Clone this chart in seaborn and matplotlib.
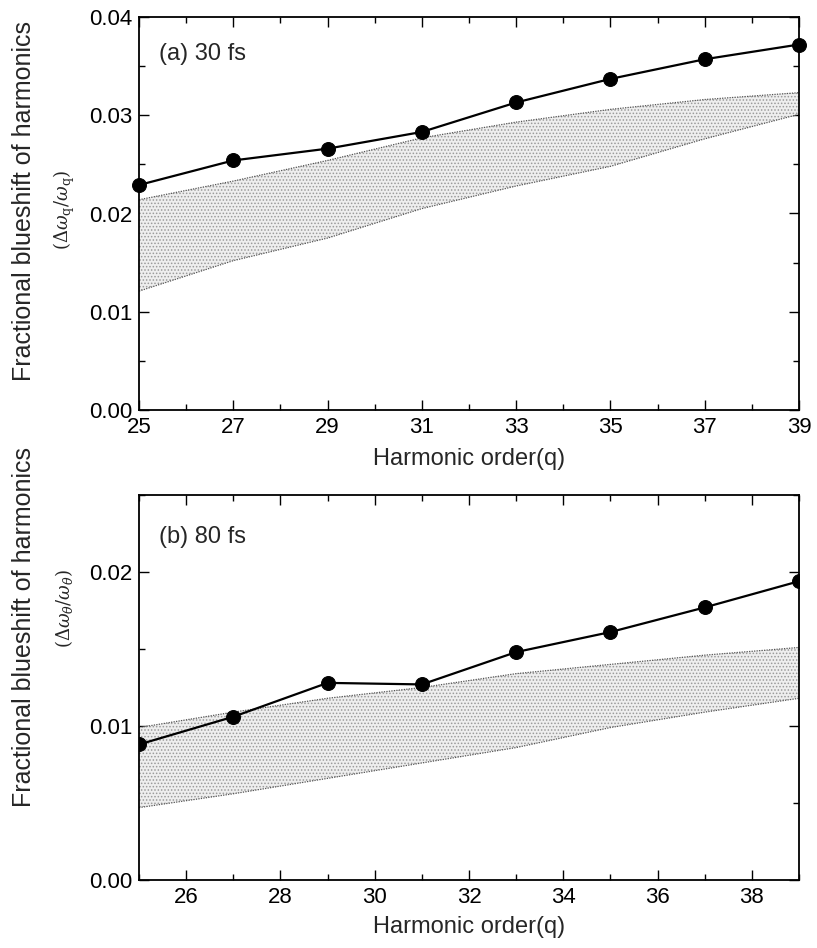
import numpy as np
import pandas as pd
import matplotlib
matplotlib.use("Agg")
import matplotlib.pyplot as plt
import seaborn as sns
from matplotlib.ticker import MultipleLocator

# ---- data ----
harmonic_q = [25, 27, 29, 31, 33, 35, 37, 39]
shift_30fs = [0.0229, 0.0254, 0.0266, 0.0283, 0.0313, 0.0337, 0.0357, 0.0372]
band_30fs_upper = [0.0214, 0.0233, 0.0254, 0.0277, 0.0293, 0.0306, 0.0316, 0.0323]
band_30fs_lower = [0.0121, 0.0152, 0.0175, 0.0205, 0.0228, 0.0248, 0.0276, 0.0301]

shift_80fs = [0.0088, 0.0106, 0.0128, 0.0127, 0.0148, 0.0161, 0.0177, 0.0194]
band_80fs_upper = [0.0099, 0.0109, 0.0118, 0.0125, 0.0134, 0.0140, 0.0146, 0.0151]
band_80fs_lower = [0.0047, 0.0056, 0.0066, 0.0076, 0.0086, 0.0099, 0.0109, 0.0118]

top_xticks = [25, 27, 29, 31, 33, 35, 37, 39]
bottom_xticks = [26, 28, 30, 32, 34, 36, 38]

sns.set_style("ticks")
plt.rcParams['font.family'] = ['Liberation Sans', 'DejaVu Sans']
plt.rcParams['mathtext.fontset'] = 'dejavuserif'
plt.rcParams['hatch.linewidth'] = 0.7

fig = plt.figure(figsize=(8.17, 9.48), dpi=100)
W, H = 817, 948

def axes_px(l, r, t, b):
    return fig.add_axes([l / W, 1 - b / H, (r - l) / W, (b - t) / H])

ax1 = axes_px(139, 799, 17, 410)
ax2 = axes_px(139, 799, 495, 880)

def style(ax):
    ax.tick_params(which='both', direction='in', top=True, right=True,
                   labelsize=16, colors='black', width=1.0)
    ax.tick_params(which='major', length=7, pad=5)
    ax.tick_params(which='minor', length=4)
    for s in ax.spines.values():
        s.set_linewidth(1.3)
        s.set_color('black')

def band(ax, lo, hi):
    ax.fill_between(harmonic_q, lo, hi, facecolor='#eeeeee', edgecolor='#9a9a9a',
                    hatch='.....', linewidth=0, zorder=1)
    ax.plot(harmonic_q, hi, ls=(0, (1, 1)), lw=0.9, color='#555555', zorder=2)
    ax.plot(harmonic_q, lo, ls=(0, (1, 1)), lw=0.9, color='#555555', zorder=2)

# ---- panel (a) ----
band(ax1, band_30fs_lower, band_30fs_upper)
df1 = pd.DataFrame({'q': harmonic_q, 'shift': shift_30fs})
sns.lineplot(data=df1, x='q', y='shift', ax=ax1, color='black', lw=1.6,
             marker='o', markersize=10, markeredgecolor='black', clip_on=False, zorder=5)
ax1.set_xlim(25, 39)
ax1.set_ylim(0, 0.04)
ax1.set_xticks(top_xticks)
ax1.xaxis.set_minor_locator(MultipleLocator(1))
ax1.set_yticks([0.00, 0.01, 0.02, 0.03, 0.04])
ax1.yaxis.set_minor_locator(MultipleLocator(0.005))
ax1.set_yticklabels(['0.00', '0.01', '0.02', '0.03', '0.04'])
ax1.set_xlabel('Harmonic order(q)', fontsize=17, labelpad=7)
ax1.set_ylabel('')
style(ax1)
ax1.text(0.03, 0.905, '(a) 30 fs', transform=ax1.transAxes, fontsize=17, va='center')

# ---- panel (b) ----
band(ax2, band_80fs_lower, band_80fs_upper)
df2 = pd.DataFrame({'q': harmonic_q, 'shift': shift_80fs})
sns.lineplot(data=df2, x='q', y='shift', ax=ax2, color='black', lw=1.6,
             marker='o', markersize=10, markeredgecolor='black', clip_on=True, zorder=5)
ax2.set_xlim(25, 39)
ax2.set_ylim(0, 0.025)
ax2.set_xticks(bottom_xticks)
ax2.xaxis.set_minor_locator(MultipleLocator(1))
ax2.set_yticks([0.00, 0.01, 0.02])
ax2.yaxis.set_minor_locator(MultipleLocator(0.005))
ax2.set_yticklabels(['0.00', '0.01', '0.02'])
ax2.set_xlabel('Harmonic order(q)', fontsize=17, labelpad=6)
ax2.set_ylabel('')
style(ax2)
ax2.text(0.03, 0.89, '(b) 80 fs', transform=ax2.transAxes, fontsize=17, va='center')

# ---- y labels ----
fig.text(24 / W, 1 - 201 / H, 'Fractional blueshift of harmonics', rotation=90,
         fontsize=18, ha='center', va='center')
fig.text(64 / W, 1 - 210 / H, r'$(\Delta\omega_{\mathrm{q}}/\omega_{\mathrm{q}})$', rotation=90,
         fontsize=13, ha='center', va='center')
fig.text(24 / W, 1 - 627 / H, 'Fractional blueshift of harmonics', rotation=90,
         fontsize=18, ha='center', va='center')
fig.text(64 / W, 1 - 608 / H, r'$(\Delta\omega_\theta/\omega_\theta)$', rotation=90,
         fontsize=13, ha='center', va='center')

fig.savefig('out.png', dpi=100)
